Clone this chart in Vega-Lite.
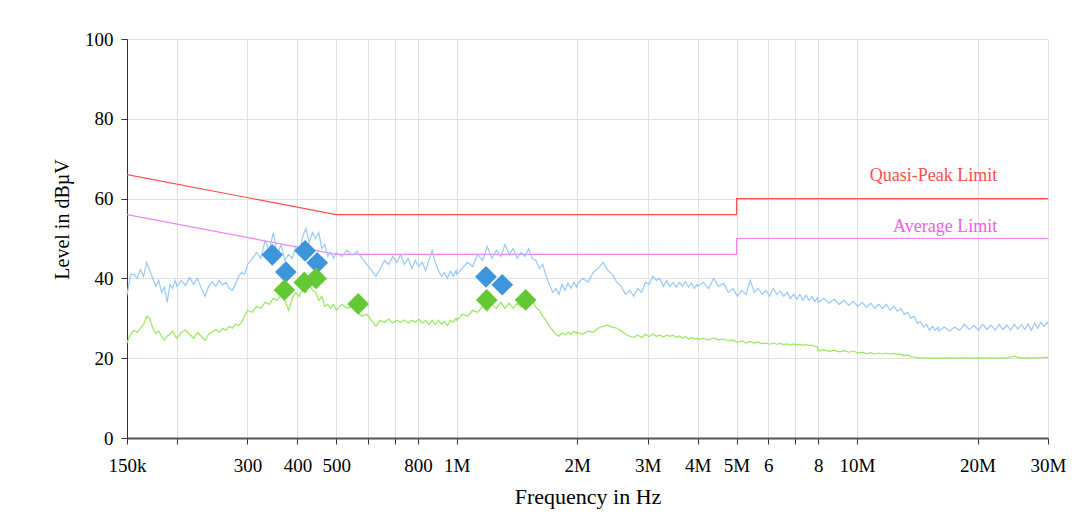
{
  "$schema": "https://vega.github.io/schema/vega-lite/v6.json",
  "width": 921,
  "height": 399,
  "autosize": "none",
  "padding": {"left": 127, "top": 39, "right": 38, "bottom": 77},
  "background": "white",
  "config": {
    "view": {"stroke": null},
    "font": "Liberation Serif",
    "axis": {
      "labelFont": "Liberation Serif",
      "titleFont": "Liberation Serif",
      "labelColor": "black",
      "titleColor": "black",
      "titleFontWeight": "normal",
      "gridColor": "#e2e2e2",
      "gridWidth": 1,
      "tickColor": "#333333",
      "domainColor": "#555555",
      "tickSize": 6
    }
  },
  "datasets": {
    "trace": [
      {"f":150000,"pk":35.8,"av":23.8},{"f":153000,"pk":40.9,"av":26.0},{"f":156000,"pk":41.0,"av":27.0},{"f":159000,"pk":40.0,"av":26.5},
      {"f":162000,"pk":42.2,"av":27.5},{"f":165000,"pk":40.5,"av":28.5},{"f":168000,"pk":44.0,"av":30.5},{"f":171000,"pk":42.0,"av":30.0},
      {"f":174000,"pk":40.0,"av":27.5},{"f":177000,"pk":38.0,"av":26.2},{"f":180000,"pk":39.5,"av":26.8},{"f":183000,"pk":36.5,"av":25.5},
      {"f":186000,"pk":37.8,"av":24.5},{"f":189000,"pk":34.0,"av":25.5},{"f":192000,"pk":38.5,"av":26.0},{"f":195000,"pk":37.5,"av":26.8},
      {"f":198000,"pk":39.5,"av":25.5},{"f":200000,"pk":38.0,"av":25.0},{"f":205000,"pk":39.5,"av":26.5},{"f":210000,"pk":38.2,"av":27.0},
      {"f":215000,"pk":40.2,"av":26.0},{"f":220000,"pk":38.5,"av":25.0},{"f":225000,"pk":40.0,"av":26.5},{"f":230000,"pk":37.5,"av":25.5},
      {"f":235000,"pk":35.5,"av":24.5},{"f":240000,"pk":38.0,"av":26.0},{"f":245000,"pk":39.2,"av":26.5},{"f":250000,"pk":38.0,"av":27.2},
      {"f":255000,"pk":39.5,"av":26.5},{"f":260000,"pk":38.3,"av":27.5},{"f":265000,"pk":39.0,"av":27.0},{"f":270000,"pk":37.5,"av":28.0},
      {"f":275000,"pk":37.0,"av":27.5},{"f":280000,"pk":38.5,"av":28.5},{"f":285000,"pk":40.5,"av":28.2},{"f":290000,"pk":41.5,"av":29.0},
      {"f":295000,"pk":41.0,"av":30.5},{"f":300000,"pk":43.5,"av":32.0},{"f":308000,"pk":44.8,"av":31.5},{"f":316000,"pk":46.5,"av":33.0},
      {"f":324000,"pk":45.0,"av":32.5},{"f":332000,"pk":49.5,"av":34.0},{"f":340000,"pk":47.0,"av":33.5},{"f":348000,"pk":51.5,"av":35.0},
      {"f":356000,"pk":46.0,"av":34.5},{"f":364000,"pk":48.5,"av":36.0},{"f":372000,"pk":44.5,"av":34.5},{"f":380000,"pk":46.0,"av":32.0},
      {"f":388000,"pk":45.0,"av":35.0},{"f":396000,"pk":48.0,"av":36.5},{"f":404000,"pk":46.0,"av":35.5},{"f":412000,"pk":50.5,"av":37.5},
      {"f":420000,"pk":52.5,"av":36.5},{"f":428000,"pk":49.0,"av":38.5},{"f":436000,"pk":51.5,"av":37.0},{"f":444000,"pk":50.0,"av":36.5},
      {"f":452000,"pk":51.5,"av":34.5},{"f":460000,"pk":47.5,"av":35.5},{"f":468000,"pk":48.5,"av":33.0},{"f":476000,"pk":45.5,"av":33.5},
      {"f":484000,"pk":46.5,"av":32.5},{"f":492000,"pk":45.0,"av":33.5},
      {"f":500000,"pk":46.5,"av":32.0},{"f":516000,"pk":45.5,"av":33.5},{"f":532000,"pk":47.0,"av":32.5},{"f":548000,"pk":45.8,"av":33.0},
      {"f":564000,"pk":46.8,"av":31.5},{"f":580000,"pk":45.0,"av":30.5},{"f":596000,"pk":43.5,"av":31.0},{"f":612000,"pk":42.0,"av":29.5},
      {"f":628000,"pk":40.5,"av":28.0},{"f":644000,"pk":42.5,"av":29.5},{"f":660000,"pk":44.5,"av":29.0},{"f":676000,"pk":43.5,"av":29.8},
      {"f":692000,"pk":45.5,"av":28.8},{"f":708000,"pk":44.0,"av":29.5},{"f":724000,"pk":46.0,"av":29.0},{"f":740000,"pk":43.5,"av":29.6},
      {"f":756000,"pk":45.0,"av":28.8},{"f":772000,"pk":42.5,"av":29.5},{"f":788000,"pk":44.5,"av":29.0},{"f":804000,"pk":43.0,"av":29.8},
      {"f":820000,"pk":44.0,"av":28.8},{"f":836000,"pk":42.0,"av":29.5},{"f":852000,"pk":44.5,"av":28.5},{"f":868000,"pk":47.0,"av":29.5},
      {"f":884000,"pk":44.0,"av":28.5},{"f":900000,"pk":42.0,"av":29.5},{"f":916000,"pk":40.5,"av":28.5},{"f":932000,"pk":41.5,"av":29.2},
      {"f":948000,"pk":40.0,"av":28.2},{"f":964000,"pk":41.8,"av":29.5},{"f":980000,"pk":40.5,"av":29.0},{"f":996000,"pk":42.0,"av":30.0},
      {"f":1000000,"pk":41.0,"av":29.5},{"f":1032000,"pk":42.5,"av":31.0},{"f":1064000,"pk":44.0,"av":30.5},{"f":1096000,"pk":43.0,"av":32.0},
      {"f":1128000,"pk":46.0,"av":31.5},{"f":1160000,"pk":44.5,"av":33.0},{"f":1192000,"pk":48.0,"av":31.8},{"f":1224000,"pk":45.0,"av":33.5},
      {"f":1256000,"pk":47.0,"av":32.5},{"f":1288000,"pk":45.5,"av":34.0},{"f":1320000,"pk":48.5,"av":32.5},{"f":1352000,"pk":46.0,"av":33.8},
      {"f":1384000,"pk":47.5,"av":32.5},{"f":1416000,"pk":45.0,"av":33.8},{"f":1448000,"pk":46.5,"av":32.8},{"f":1480000,"pk":45.5,"av":34.0},
      {"f":1512000,"pk":47.5,"av":33.0},{"f":1544000,"pk":45.0,"av":34.5},{"f":1576000,"pk":44.5,"av":32.8},{"f":1608000,"pk":42.5,"av":32.0},
      {"f":1640000,"pk":43.5,"av":30.5},{"f":1672000,"pk":40.5,"av":29.5},{"f":1704000,"pk":38.5,"av":28.0},{"f":1736000,"pk":36.5,"av":27.0},
      {"f":1768000,"pk":37.5,"av":26.0},{"f":1800000,"pk":36.0,"av":25.5},{"f":1832000,"pk":38.5,"av":26.3},{"f":1864000,"pk":37.0,"av":25.8},
      {"f":1896000,"pk":38.8,"av":26.5},{"f":1928000,"pk":37.5,"av":26.0},{"f":1960000,"pk":39.0,"av":26.8},{"f":1992000,"pk":37.8,"av":26.2},
      {"f":2000000,"pk":38.5,"av":26.5},{"f":2064000,"pk":40.0,"av":26.0},{"f":2128000,"pk":39.0,"av":26.8},{"f":2192000,"pk":41.5,"av":26.5},
      {"f":2256000,"pk":42.5,"av":27.5},{"f":2320000,"pk":44.0,"av":28.0},{"f":2384000,"pk":42.0,"av":28.3},{"f":2448000,"pk":41.0,"av":27.8},
      {"f":2512000,"pk":39.0,"av":27.5},{"f":2576000,"pk":38.0,"av":26.8},{"f":2640000,"pk":36.0,"av":26.0},{"f":2704000,"pk":37.0,"av":25.5},
      {"f":2768000,"pk":35.5,"av":25.2},{"f":2832000,"pk":37.5,"av":25.8},{"f":2896000,"pk":36.5,"av":25.2},{"f":2960000,"pk":39.0,"av":26.0},
      {"f":3024000,"pk":38.5,"av":25.4},{"f":3088000,"pk":40.5,"av":26.0},{"f":3152000,"pk":39.5,"av":25.5},{"f":3216000,"pk":40.0,"av":25.8},
      {"f":3280000,"pk":38.0,"av":25.3},{"f":3344000,"pk":39.5,"av":25.8},{"f":3408000,"pk":38.0,"av":25.5},{"f":3472000,"pk":39.0,"av":25.8},
      {"f":3536000,"pk":37.8,"av":25.2},{"f":3600000,"pk":39.0,"av":25.6},{"f":3664000,"pk":38.0,"av":25.0},{"f":3728000,"pk":39.2,"av":25.4},
      {"f":3792000,"pk":37.8,"av":24.8},{"f":3856000,"pk":38.8,"av":25.2},{"f":3920000,"pk":37.5,"av":24.8},{"f":3984000,"pk":38.5,"av":25.0},
      {"f":4000000,"pk":38.0,"av":24.7},{"f":4128000,"pk":39.0,"av":25.0},{"f":4256000,"pk":37.5,"av":24.6},{"f":4384000,"pk":40.0,"av":25.0},
      {"f":4512000,"pk":38.0,"av":24.6},{"f":4640000,"pk":38.8,"av":24.8},{"f":4768000,"pk":36.5,"av":24.4},{"f":4896000,"pk":37.5,"av":24.6},
      {"f":5024000,"pk":35.5,"av":24.0},{"f":5152000,"pk":37.0,"av":24.3},{"f":5280000,"pk":36.0,"av":23.8},{"f":5408000,"pk":39.5,"av":24.2},
      {"f":5536000,"pk":36.5,"av":23.8},{"f":5664000,"pk":37.5,"av":24.0},{"f":5792000,"pk":36.0,"av":23.6},{"f":5920000,"pk":37.0,"av":23.8},
      {"f":6048000,"pk":35.5,"av":23.5},{"f":6176000,"pk":37.5,"av":23.8},{"f":6304000,"pk":36.0,"av":23.5},{"f":6432000,"pk":36.8,"av":23.7},
      {"f":6560000,"pk":35.5,"av":23.4},{"f":6688000,"pk":36.5,"av":23.6},{"f":6816000,"pk":35.0,"av":23.3},{"f":6944000,"pk":36.0,"av":23.6},
      {"f":7072000,"pk":34.8,"av":23.3},{"f":7200000,"pk":36.0,"av":23.5},{"f":7328000,"pk":34.5,"av":23.2},{"f":7456000,"pk":35.8,"av":23.4},
      {"f":7584000,"pk":34.5,"av":23.2},{"f":7712000,"pk":35.5,"av":23.3},{"f":7840000,"pk":34.2,"av":23.0},{"f":7968000,"pk":35.2,"av":22.8},
      {"f":8000000,"pk":34.0,"av":21.8},{"f":8256000,"pk":35.0,"av":22.1},{"f":8512000,"pk":33.8,"av":21.7},{"f":8768000,"pk":34.8,"av":22.0},
      {"f":9024000,"pk":33.5,"av":21.6},{"f":9280000,"pk":34.5,"av":21.9},{"f":9536000,"pk":33.2,"av":21.5},{"f":9792000,"pk":34.2,"av":21.8},
      {"f":10048000,"pk":33.0,"av":21.3},{"f":10304000,"pk":34.0,"av":21.5},{"f":10560000,"pk":32.8,"av":21.1},{"f":10816000,"pk":33.8,"av":21.4},
      {"f":11072000,"pk":32.5,"av":21.0},{"f":11328000,"pk":33.5,"av":21.3},{"f":11584000,"pk":32.5,"av":21.0},{"f":11840000,"pk":33.5,"av":21.3},
      {"f":12096000,"pk":32.0,"av":21.0},{"f":12352000,"pk":33.0,"av":21.2},{"f":12608000,"pk":31.8,"av":20.9},{"f":12864000,"pk":32.5,"av":21.0},
      {"f":13120000,"pk":31.0,"av":20.6},{"f":13376000,"pk":31.5,"av":20.8},{"f":13632000,"pk":30.0,"av":20.4},{"f":13888000,"pk":30.5,"av":20.3},
      {"f":14144000,"pk":28.8,"av":20.1},{"f":14400000,"pk":29.2,"av":20.1},{"f":14656000,"pk":27.8,"av":20.0},{"f":14912000,"pk":28.5,"av":20.0},
      {"f":15168000,"pk":27.0,"av":20.0},{"f":15424000,"pk":28.0,"av":20.0},{"f":15680000,"pk":27.0,"av":20.0},{"f":15936000,"pk":27.8,"av":20.0},
      {"f":16000000,"pk":26.8,"av":20.0},{"f":16512000,"pk":27.8,"av":20.0},{"f":17024000,"pk":26.8,"av":20.1},{"f":17536000,"pk":27.8,"av":20.0},
      {"f":18048000,"pk":27.0,"av":20.0},{"f":18560000,"pk":28.5,"av":20.1},{"f":19072000,"pk":27.2,"av":20.0},{"f":19584000,"pk":28.2,"av":20.0},
      {"f":20096000,"pk":27.0,"av":20.1},{"f":20608000,"pk":28.5,"av":20.0},{"f":21120000,"pk":27.2,"av":20.0},{"f":21632000,"pk":28.3,"av":20.1},
      {"f":22144000,"pk":27.0,"av":20.0},{"f":22656000,"pk":28.5,"av":20.0},{"f":23168000,"pk":27.2,"av":20.1},{"f":23680000,"pk":28.3,"av":20.0},
      {"f":24192000,"pk":27.0,"av":20.3},{"f":24704000,"pk":28.5,"av":20.5},{"f":25216000,"pk":27.3,"av":20.2},{"f":25728000,"pk":28.4,"av":20.0},
      {"f":26240000,"pk":27.2,"av":20.0},{"f":26752000,"pk":28.6,"av":20.1},{"f":27264000,"pk":27.0,"av":20.0},{"f":27776000,"pk":28.8,"av":20.1},
      {"f":28288000,"pk":27.5,"av":20.1},{"f":28800000,"pk":29.0,"av":20.1},{"f":29312000,"pk":28.0,"av":20.2},{"f":29824000,"pk":29.0,"av":20.2},
      {"f":30000000,"pk":28.5,"av":20.2}
    ],
    "limits": [
      {"f":150000,"lvl":66,"lim":"Quasi-Peak"},{"f":500000,"lvl":56,"lim":"Quasi-Peak"},{"f":5000000,"lvl":56,"lim":"Quasi-Peak"},{"f":5000000,"lvl":60,"lim":"Quasi-Peak"},{"f":30000000,"lvl":60,"lim":"Quasi-Peak"},
      {"f":150000,"lvl":56,"lim":"Average"},{"f":500000,"lvl":46,"lim":"Average"},{"f":5000000,"lvl":46,"lim":"Average"},{"f":5000000,"lvl":50,"lim":"Average"},{"f":30000000,"lvl":50,"lim":"Average"}
    ],
    "finals": [
      {"f":346000,"lvl":45.9,"det":"QP final"},{"f":374000,"lvl":41.6,"det":"QP final"},{"f":418000,"lvl":46.9,"det":"QP final"},
      {"f":448000,"lvl":43.9,"det":"QP final"},{"f":1183000,"lvl":40.4,"det":"QP final"},{"f":1299000,"lvl":38.4,"det":"QP final"},
      {"f":371000,"lvl":37.1,"det":"AV final"},{"f":416000,"lvl":39.0,"det":"AV final"},{"f":445000,"lvl":40.0,"det":"AV final"},
      {"f":567000,"lvl":33.6,"det":"AV final"},{"f":1188000,"lvl":34.6,"det":"AV final"},{"f":1486000,"lvl":34.6,"det":"AV final"}
    ],
    "labels": [
      {"f":22400000,"lvl":64.4,"text":"Quasi-Peak Limit","lim":"Quasi-Peak"},
      {"f":22400000,"lvl":51.6,"text":"Average Limit","lim":"Average"}
    ]
  },
  "resolve": {"scale": {"color": "independent"}},
  "layer": [
    {
      "data": {"name": "limits"},
      "mark": {"type": "line", "strokeWidth": 1.2, "clip": true},
      "encoding": {
        "x": {
          "field": "f", "type": "quantitative",
          "scale": {"type": "log", "domain": [150000, 30000000], "nice": false},
          "axis": {
            "title": "Frequency in Hz",
            "titleFontSize": 22,
            "titlePadding": 11,
            "labelFontSize": 19,
            "labelPadding": 12,
            "labelFlush": false,
            "labelOverlap": false,
            "labelBound": false,
            "domainWidth": 2,
            "values": [150000, 200000, 300000, 400000, 500000, 600000, 700000, 800000, 1000000, 2000000, 3000000, 4000000, 5000000, 6000000, 7000000, 8000000, 10000000, 20000000, 30000000],
            "labelExpr": "datum.value == 150000 ? '150k' : datum.value == 300000 ? '300' : datum.value == 400000 ? '400' : datum.value == 500000 ? '500' : datum.value == 800000 ? '800' : datum.value == 1000000 ? '1M' : datum.value == 2000000 ? '2M' : datum.value == 3000000 ? '3M' : datum.value == 4000000 ? '4M' : datum.value == 5000000 ? '5M' : datum.value == 6000000 ? '6' : datum.value == 8000000 ? '8' : datum.value == 10000000 ? '10M' : datum.value == 20000000 ? '20M' : datum.value == 30000000 ? '30M' : ''"
          }
        },
        "y": {
          "field": "lvl", "type": "quantitative",
          "scale": {"domain": [0, 100], "nice": false},
          "axis": {
            "title": "Level in dBµV",
            "titleFontSize": 20,
            "titlePadding": 12,
            "titleY": 180,
            "labelFontSize": 19,
            "labelPadding": 8,
            "domainColor": "#333333",
            "values": [0, 10, 20, 30, 40, 50, 60, 70, 80, 90, 100],
            "labelExpr": "datum.value % 20 == 0 ? datum.label : ''"
          }
        },
        "detail": {"field": "lim"},
        "color": {
          "field": "lim", "type": "nominal", "legend": null,
          "scale": {"domain": ["Quasi-Peak", "Average"], "range": ["#ff4d4d", "#f582f5"]}
        }
      }
    },
    {
      "data": {"name": "trace"},
      "mark": {"type": "line", "color": "#99c9fb", "strokeWidth": 1.2},
      "encoding": {
        "x": {"field": "f", "type": "quantitative"},
        "y": {"field": "pk", "type": "quantitative"}
      }
    },
    {
      "data": {"name": "trace"},
      "mark": {"type": "line", "color": "#97e85e", "strokeWidth": 1.2},
      "encoding": {
        "x": {"field": "f", "type": "quantitative"},
        "y": {"field": "av", "type": "quantitative"}
      }
    },
    {
      "data": {"name": "finals"},
      "mark": {"type": "point", "shape": "diamond", "filled": true, "opacity": 1, "size": 470},
      "encoding": {
        "x": {"field": "f", "type": "quantitative"},
        "y": {"field": "lvl", "type": "quantitative"},
        "color": {
          "field": "det", "type": "nominal", "legend": null,
          "scale": {"domain": ["QP final", "AV final"], "range": ["#3d96dc", "#63c833"]}
        }
      }
    },
    {
      "data": {"name": "labels"},
      "mark": {"type": "text", "align": "right", "baseline": "alphabetic", "fontSize": 18, "font": "Liberation Serif"},
      "encoding": {
        "x": {"field": "f", "type": "quantitative"},
        "y": {"field": "lvl", "type": "quantitative"},
        "text": {"field": "text"},
        "color": {
          "field": "lim", "type": "nominal", "legend": null,
          "scale": {"domain": ["Quasi-Peak", "Average"], "range": ["#ff4d4d", "#f05cf0"]}
        }
      }
    }
  ]
}
